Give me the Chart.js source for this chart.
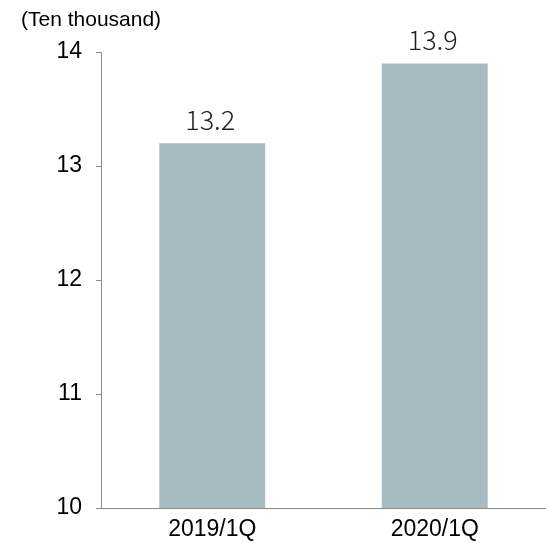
<!DOCTYPE html>
<html>
<head>
<meta charset="utf-8">
<script src="https://cdn.jsdelivr.net/npm/chart.js@4.4.1/dist/chart.umd.min.js"></script>
<style>
  html, body { margin: 0; padding: 0; background: #ffffff; }
  #wrap { position: relative; width: 546px; height: 543px; }
  #unit { position: absolute; left: 21px; top: 7px; font-family: "Liberation Sans", Arial, sans-serif; font-size: 21px; line-height: 24px; color: #000; white-space: nowrap; }
  canvas { position: absolute; left: 0; top: 0; }
</style>
</head>
<body>
<div id="wrap">
  <canvas id="c" width="546" height="543"></canvas>
  <div id="unit">(Ten thousand)</div>
</div>
<script>
const categories = ["2019/1Q", "2020/1Q"];
const values = [13.2, 13.9];
const valueLabels = ["13.2", "13.9"];
const yTicks = [10, 11, 12, 13, 14];

const barColor = "#a8bac2";
const axisColor = "#8c8c8c";

const valueLabelPlugin = {
  id: "valueLabels",
  afterDatasetsDraw(chart) {
    const ctx = chart.ctx;
    const meta = chart.getDatasetMeta(0);
    ctx.save();
    ctx.font = '300 27px "Noto Sans CJK JP", "Noto Sans", sans-serif';
    ctx.fillStyle = "#222222";
    ctx.textAlign = "center";
    ctx.textBaseline = "alphabetic";
    meta.data.forEach((bar, i) => {
      ctx.fillText(valueLabels[i], bar.x - 2, bar.y - 13);
    });
    ctx.restore();
  }
};

new Chart(document.getElementById("c"), {
  type: "bar",
  data: {
    labels: categories,
    datasets: [{
      data: values,
      backgroundColor: barColor,
      borderWidth: 0,
      categoryPercentage: 1.0,
      barPercentage: 0.476
    }]
  },
  options: {
    responsive: false,
    animation: false,
    devicePixelRatio: 1,
    layout: { padding: { top: 52, right: 0, left: 0, bottom: 0 } },
    plugins: {
      legend: { display: false },
      tooltip: { enabled: false }
    },
    scales: {
      x: {
        afterFit(scale) { scale.height = 35; },
        grid: { display: false, drawTicks: false },
        border: { display: true, color: axisColor, width: 1 },
        ticks: {
          color: "#000",
          font: { family: '"Liberation Sans", Arial, sans-serif', size: 23 },
          padding: 8
        }
      },
      y: {
        min: 10,
        max: 14,
        afterFit(scale) { scale.width = 101; },
        afterBuildTicks(scale) { scale.ticks = yTicks.map(v => ({ value: v })); },
        grid: { display: true, drawOnChartArea: false, drawTicks: true, tickLength: 5, color: axisColor },
        border: { display: true, color: axisColor, width: 1 },
        ticks: {
          color: "#000",
          font: { family: '"Liberation Sans", Arial, sans-serif', size: 23 },
          padding: 14
        }
      }
    }
  },
  plugins: [valueLabelPlugin]
});
</script>
</body>
</html>
